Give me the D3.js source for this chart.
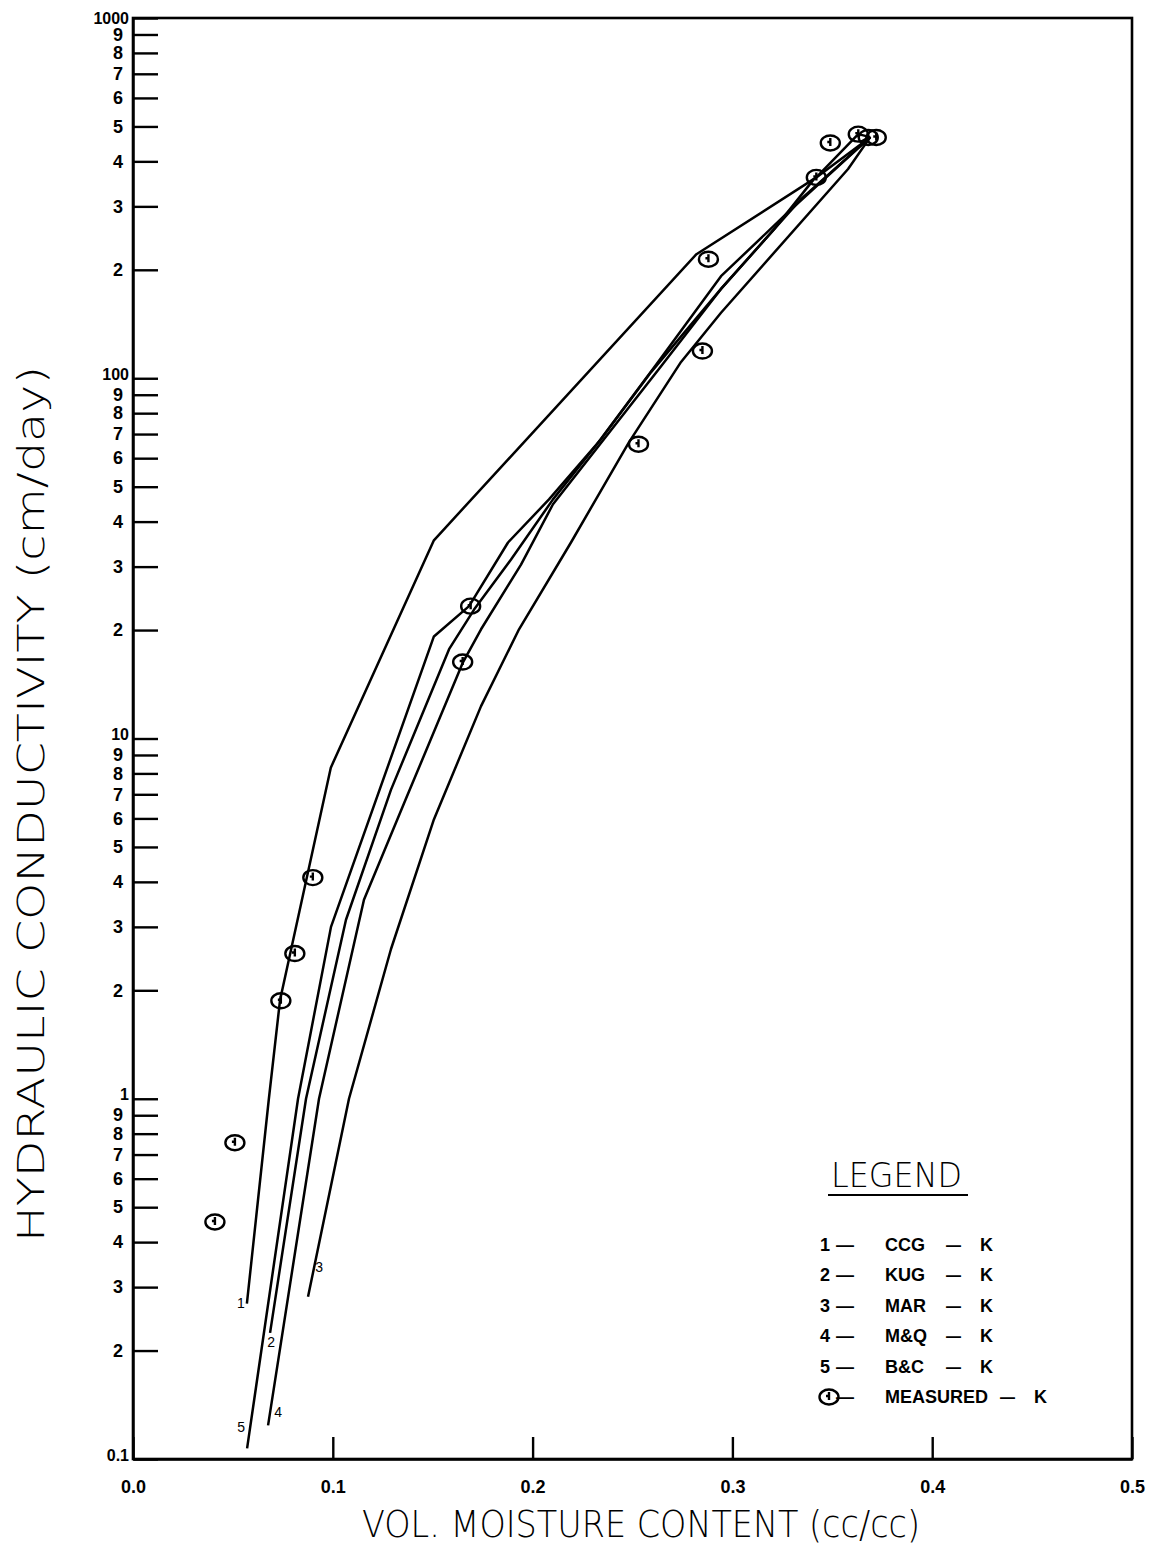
<!DOCTYPE html>
<html>
<head>
<meta charset="utf-8">
<script src="https://cdn.jsdelivr.net/npm/d3@7/dist/d3.min.js"></script>
<style>
  body { margin: 0; background: #fff; }
  svg { display: block; }
  .curve { fill: none; stroke: #000; stroke-width: 2.5; stroke-linejoin: round; }
  .frame { fill: none; stroke: #000; stroke-width: 2.6; }
  .axis path, .axis line { stroke: #000; stroke-width: 2.4; }
  .axis text { font-family: "Liberation Sans", Arial, sans-serif; font-weight: bold; font-size: 18px; fill: #000; }
  .title { font-family: "DejaVu Sans", sans-serif; font-weight: 200; fill: #000; }
  .legend-row { font-family: "Liberation Sans", Arial, sans-serif; font-weight: bold; font-size: 18px; fill: #000; }
  .curve-id { font-family: "Liberation Sans", Arial, sans-serif; font-size: 14px; fill: #000; }
  .marker { fill: none; stroke: #000; stroke-width: 2.4; }
</style>
</head>
<body>
<div id="chart"></div>
<script>

// moisture content (cc/cc), hydraulic conductivity (cm/day)
var ccgK = [[0.057, 0.27], [0.068, 1.0], [0.0736, 1.88], [0.099, 8.3], [0.1506, 35.5],
            [0.282, 221], [0.342, 361], [0.363, 476], [0.369, 467]];
var kugK = [[0.0686, 0.224], [0.0866, 1.0], [0.1066, 3.14], [0.1291, 7.2], [0.1582, 17.7],
            [0.1707, 22.8], [0.1892, 31.4], [0.2102, 46.1], [0.2322, 65.6], [0.2618, 109],
            [0.2943, 192], [0.3293, 294], [0.369, 467]];
var marK = [[0.0876, 0.282], [0.1081, 1.0], [0.1291, 2.6], [0.1506, 5.96], [0.1742, 12.3],
            [0.1932, 20.1], [0.2192, 35.0], [0.2482, 66.4], [0.2743, 111], [0.2943, 152],
            [0.3579, 381], [0.369, 467]];
var mqK = [[0.0676, 0.124], [0.0931, 1.0], [0.1156, 3.57], [0.1366, 6.8], [0.1652, 16.3],
           [0.1742, 20.1], [0.1942, 30.4], [0.2102, 44.7], [0.2357, 67.7], [0.2643, 108],
           [0.2943, 177], [0.3343, 314], [0.369, 467]];
var bcK = [[0.0571, 0.107], [0.0826, 1.0], [0.0991, 3.0], [0.1506, 19.2], [0.1682, 23.3],
           [0.1877, 35.0], [0.2082, 46.1], [0.2342, 67.7], [0.2593, 104], [0.2943, 177],
           [0.3208, 259], [0.3408, 357], [0.369, 467]];
var measuredK = [[0.041, 0.455], [0.051, 0.755], [0.074, 1.87], [0.081, 2.53], [0.090, 4.11],
                 [0.165, 16.3], [0.169, 23.3], [0.253, 65.6], [0.285, 119], [0.288, 214],
                 [0.342, 361], [0.349, 450], [0.363, 476], [0.368, 466], [0.372, 466]];

var seriesIds = ["1", "2", "3", "4", "5"];
var seriesNames = ["CCG", "KUG", "MAR", "M&Q", "B&C"];
var seriesData = [ccgK, kugK, marK, mqK, bcK];
var measuredName = "MEASURED";

var xTicks = [0, 0.1, 0.2, 0.3, 0.4, 0.5];
var yDecades = [0.1, 1, 10, 100];
var yMax = 1000;

var xTitle = "VOL. MOISTURE CONTENT (cc/cc)",
    yTitle = "HYDRAULIC CONDUCTIVITY (cm/day)";

var width = 1154,
    height = 1548,
    plotLeft = 133, plotRight = 1132,
    plotTop = 18, plotBottom = 1459;

// little id numbers sit next to the low end of each curve
var idOffsets = [[-6, 4], [1, 14], [11, -25], [10, -8], [-6, -16]];

var svg = d3.select("#chart").append("svg")
  .attr("width", width)
  .attr("height", height);

svg.append("rect").attr("width", width).attr("height", height).attr("fill", "#fff");

var x = d3.scaleLinear().domain([0, 0.5]).range([plotLeft, plotRight]);
var y = d3.scaleLog().domain([0.1, yMax]).range([plotBottom, plotTop]);

var yTickValues = [];
yDecades.forEach(function(d) {
  for (var m = 1; m < 10; m++) yTickValues.push(+(d * m).toPrecision(3));
});
yTickValues.push(yMax);

var mantissa = function(d) {
  var p = Math.floor(Math.log10(d) + 1e-9);
  return Math.round(d / Math.pow(10, p));
};

svg.append("rect")
  .attr("class", "frame")
  .attr("x", plotLeft).attr("y", plotTop)
  .attr("width", plotRight - plotLeft).attr("height", plotBottom - plotTop);

var yAxis = d3.axisLeft(y)
  .tickValues(yTickValues)
  .tickSizeInner(-25)
  .tickSizeOuter(0)
  .tickPadding(4)
  .tickFormat(function(d) { return mantissa(d) === 1 ? String(d) : String(mantissa(d)); });

var gy = svg.append("g")
  .attr("class", "axis")
  .attr("transform", "translate(" + plotLeft + ",0)")
  .call(yAxis);

// decade labels sit a touch higher and tighter, like the plotter lettering
gy.selectAll(".tick text")
  .attr("x", function(d) { return mantissa(d) === 1 ? -4 : -10; })
  .attr("y", function(d) { return mantissa(d) === 1 && d < yMax ? -4 : 0; })
  .style("font-size", function(d) { return mantissa(d) === 1 ? "16px" : null; });

var xAxis = d3.axisBottom(x)
  .tickValues(xTicks)
  .tickSizeInner(-22)
  .tickSizeOuter(0)
  .tickPadding(21)
  .tickFormat(d3.format(".1f"));

svg.append("g")
  .attr("class", "axis")
  .attr("transform", "translate(0," + plotBottom + ")")
  .call(xAxis);

// axis titles
svg.append("text")
  .attr("class", "title")
  .attr("x", 362).attr("y", 1537)
  .attr("font-size", 38)
  .attr("textLength", 558)
  .attr("lengthAdjust", "spacingAndGlyphs")
  .text(xTitle);

svg.append("text")
  .attr("class", "title")
  .attr("transform", "translate(44,1242) rotate(-90)")
  .attr("font-size", 38)
  .attr("textLength", 876)
  .attr("lengthAdjust", "spacingAndGlyphs")
  .text(yTitle);

// model curves
var line = d3.line()
  .x(function(d) { return x(d[0]); })
  .y(function(d) { return y(d[1]); });

svg.append("g")
  .selectAll("path")
  .data(seriesData)
  .enter().append("path")
  .attr("class", "curve")
  .attr("d", line);

svg.append("g")
  .selectAll("text")
  .data(seriesData)
  .enter().append("text")
  .attr("class", "curve-id")
  .attr("text-anchor", "middle")
  .attr("x", function(d, i) { return x(d[0][0]) + idOffsets[i][0]; })
  .attr("y", function(d, i) { return y(d[0][1]) + idOffsets[i][1]; })
  .text(function(d, i) { return seriesIds[i]; });

// measured points: circle with a small tick inside
var drawMarker = function(g) {
  g.append("ellipse").attr("class", "marker").attr("rx", 9.5).attr("ry", 7.5);
  g.append("path").attr("class", "marker").attr("stroke-width", 1.8)
    .attr("d", "M0,-5V3M-3,-1H0");
};

svg.append("g")
  .selectAll("g")
  .data(measuredK)
  .enter().append("g")
  .attr("transform", function(d) { return "translate(" + x(d[0]) + "," + y(d[1]) + ")"; })
  .each(function() { drawMarker(d3.select(this)); });

// legend
var legend = svg.append("g").attr("class", "legend");

legend.append("text")
  .attr("class", "title")
  .attr("x", 831).attr("y", 1187)
  .attr("font-size", 34)
  .attr("textLength", 131)
  .attr("lengthAdjust", "spacingAndGlyphs")
  .text("LEGEND");

legend.append("line")
  .attr("x1", 828).attr("x2", 968)
  .attr("y1", 1195).attr("y2", 1195)
  .attr("stroke", "#000").attr("stroke-width", 2.2);

var rowY = function(i) { return 1251 + i * 30.4; };

var rows = legend.selectAll("g.legend-item")
  .data(seriesNames.concat([measuredName]))
  .enter().append("g")
  .attr("class", "legend-item");

rows.each(function(name, i) {
  var g = d3.select(this),
      yy = rowY(i);
  if (i < seriesIds.length) {
    g.append("text").attr("class", "legend-row").attr("x", 820).attr("y", yy).text(seriesIds[i]);
  } else {
    drawMarker(g.append("g").attr("transform", "translate(829," + (yy - 6) + ")"));
  }
  g.append("text").attr("class", "legend-row").attr("x", 836).attr("y", yy).text("\u2014");
  var label = g.append("text").attr("class", "legend-row").attr("x", 885).attr("y", yy).text(name);
  var end = 885 + label.node().getComputedTextLength();
  var dashX = Math.max(946, end + 12);
  g.append("text").attr("class", "legend-row").attr("x", dashX)
    .attr("y", yy).attr("textLength", 15).attr("lengthAdjust", "spacingAndGlyphs").text("\u2014");
  g.append("text").attr("class", "legend-row").attr("x", dashX + 34).attr("y", yy).text("K");
});

</script>
</body>
</html>
